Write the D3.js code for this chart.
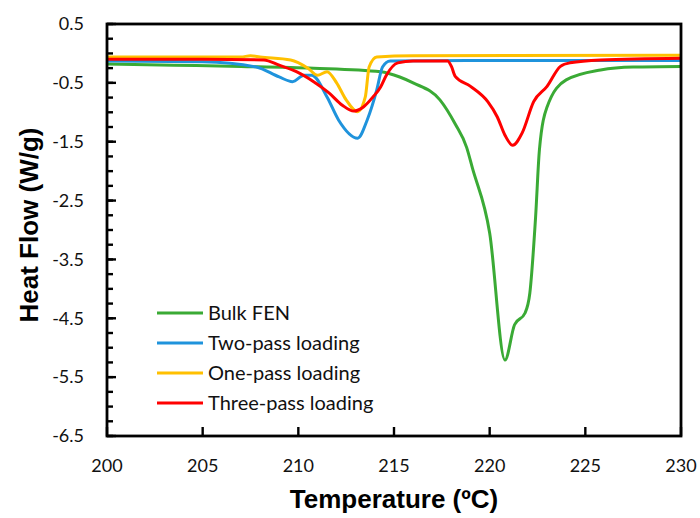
<!DOCTYPE html>
<html>
<head>
<meta charset="utf-8">
<script src="https://cdn.jsdelivr.net/npm/d3@7"></script>
<style>
  body { margin: 0; background: #fff; }
  svg { display: block; }
</style>
</head>
<body>
<div id="chart"></div>
<script>
// Series data (temperature in °C, heat flow in W/g)
const seriesNames = ["Bulk FEN", "Two-pass loading", "One-pass loading", "Three-pass loading"];
const seriesColors = ["#3aaa35", "#1f93dc", "#ffc000", "#ff0000"];

const bulkT = [200, 203.5, 207, 210.8, 214.3, 215.3, 216, 217.4, 218.2, 218.8, 219.1, 220, 220.8, 221.3, 221.85, 222.1, 222.4, 222.6, 223, 224, 225.8, 227.5, 230];
const bulkHF = [-0.18, -0.2, -0.22, -0.25, -0.31, -0.4, -0.5, -0.79, -1.2, -1.6, -1.95, -3.05, -5.21, -4.61, -4.41, -4.07, -2.78, -1.64, -0.91, -0.45, -0.28, -0.23, -0.22];

const twoT = [200, 205, 207.8, 209, 209.7, 210.3, 210.7, 211.5, 212.1, 213.1, 213.6, 214.1, 214.4, 214.8, 220, 230];
const twoHF = [-0.13, -0.14, -0.23, -0.4, -0.48, -0.37, -0.37, -0.74, -1.13, -1.44, -1.13, -0.62, -0.23, -0.13, -0.12, -0.12];

const oneT = [200, 207, 207.5, 208, 209.6, 210.5, 211, 211.5, 212, 212.5, 213.1, 213.5, 213.7, 214.1, 216, 230];
const oneHF = [-0.06, -0.06, -0.04, -0.06, -0.11, -0.25, -0.37, -0.31, -0.5, -0.79, -0.99, -0.74, -0.23, -0.06, -0.04, -0.03];

const threeT = [200, 205, 208.2, 209, 209.9, 210.8, 211.6, 212.3, 212.9, 213.4, 213.9, 214.3, 214.6, 215.2, 216, 217.8, 218, 218.2, 219, 219.9, 220.4, 220.8, 221.2, 221.7, 222.3, 223, 223.7, 224.2, 225.8, 230];
const threeHF = [-0.1, -0.1, -0.11, -0.2, -0.31, -0.48, -0.67, -0.88, -0.98, -0.91, -0.74, -0.57, -0.37, -0.16, -0.13, -0.13, -0.22, -0.39, -0.56, -0.82, -1.08, -1.39, -1.56, -1.35, -0.82, -0.56, -0.22, -0.16, -0.11, -0.08];

const xTicks = [200, 205, 210, 215, 220, 225, 230];
const yTicks = [0.5, -0.5, -1.5, -2.5, -3.5, -4.5, -5.5, -6.5];
const yMinorTicks = d3.range(0, 29).map(i => -6.5 + i * 0.25);

const width = 700, height = 518;
const margin = { top: 24, right: 19, bottom: 82, left: 107 };

const svg = d3.select("#chart").append("svg")
    .attr("width", width)
    .attr("height", height);

const x = d3.scaleLinear()
    .domain([200, 230])
    .range([margin.left, width - margin.right]);

const y = d3.scaleLinear()
    .domain([-6.5, 0.5])
    .range([height - margin.bottom, margin.top]);

const series = [
    { name: seriesNames[0], color: seriesColors[0], t: bulkT, hf: bulkHF },
    { name: seriesNames[1], color: seriesColors[1], t: twoT, hf: twoHF },
    { name: seriesNames[2], color: seriesColors[2], t: oneT, hf: oneHF },
    { name: seriesNames[3], color: seriesColors[3], t: threeT, hf: threeHF }
];

const line = d3.line()
    .x(d => x(d[0]))
    .y(d => y(d[1]))
    .curve(d3.curveMonotoneX);

// curves
series.forEach(s => {
    svg.append("path")
        .datum(d3.zip(s.t, s.hf))
        .attr("fill", "none")
        .attr("stroke", s.color)
        .attr("stroke-width", 3)
        .attr("stroke-linejoin", "round")
        .attr("d", line);
});

// frame
svg.append("rect")
    .attr("x", x(200))
    .attr("y", y(0.5))
    .attr("width", x(230) - x(200))
    .attr("height", y(-6.5) - y(0.5))
    .attr("fill", "none")
    .attr("stroke", "#000")
    .attr("stroke-width", 2.8);

const labelFont = "Lato, 'Open Sans', sans-serif";

// Y ticks: minor every 0.25, major at labels, pointing inward
svg.append("g").selectAll("line")
    .data(yMinorTicks)
    .enter().append("line")
    .attr("x1", x(200)).attr("x2", x(200) + 6)
    .attr("y1", d => y(d)).attr("y2", d => y(d))
    .attr("stroke", "#000").attr("stroke-width", 2.4);

svg.append("g").selectAll("line")
    .data(yTicks)
    .enter().append("line")
    .attr("x1", x(200)).attr("x2", x(200) + 9)
    .attr("y1", d => y(d)).attr("y2", d => y(d))
    .attr("stroke", "#000").attr("stroke-width", 2.4);

svg.append("g").selectAll("text")
    .data(yTicks)
    .enter().append("text")
    .attr("x", 84)
    .attr("y", d => y(d))
    .attr("dy", "0.35em")
    .attr("text-anchor", "end")
    .style("font-family", labelFont)
    .style("font-size", "18px")
    .attr("fill", "#111")
    .text(d => d.toFixed(1));

// X ticks pointing up
svg.append("g").selectAll("line")
    .data(xTicks)
    .enter().append("line")
    .attr("x1", d => x(d)).attr("x2", d => x(d))
    .attr("y1", y(-6.5)).attr("y2", y(-6.5) - 9)
    .attr("stroke", "#000").attr("stroke-width", 2.4);

svg.append("g").selectAll("text")
    .data(xTicks)
    .enter().append("text")
    .attr("x", d => x(d))
    .attr("y", 466)
    .attr("dy", "0.35em")
    .attr("text-anchor", "middle")
    .style("font-family", labelFont)
    .style("font-size", "18px")
    .attr("fill", "#111")
    .text(d => d);

// axis titles
svg.append("text")
    .attr("x", 394)
    .attr("y", 499)
    .attr("dy", "0.35em")
    .attr("text-anchor", "middle")
    .style("font-family", "'Liberation Sans', Arial, sans-serif")
    .style("font-weight", "bold")
    .style("font-size", "26px")
    .text("Temperature (ºC)");

svg.append("text")
    .attr("transform", `translate(29,${(y(0.5) + y(-6.5)) / 2 - 5}) rotate(-90)`)
    .attr("dy", "0.35em")
    .attr("text-anchor", "middle")
    .style("font-family", "'Liberation Sans', Arial, sans-serif")
    .style("font-weight", "bold")
    .style("font-size", "26px")
    .text("Heat Flow (W/g)");

// legend
const legend = svg.append("g").attr("transform", "translate(157,313)");
series.forEach((s, i) => {
    const row = legend.append("g").attr("transform", `translate(0,${i * 30})`);
    row.append("line")
        .attr("x1", 0).attr("x2", 46)
        .attr("stroke", s.color)
        .attr("stroke-width", 3);
    row.append("text")
        .attr("x", 51)
        .attr("dy", "0.35em")
        .style("font-family", labelFont)
        .style("font-size", "20px")
        .attr("fill", "#111")
        .text(s.name);
});
</script>
</body>
</html>
